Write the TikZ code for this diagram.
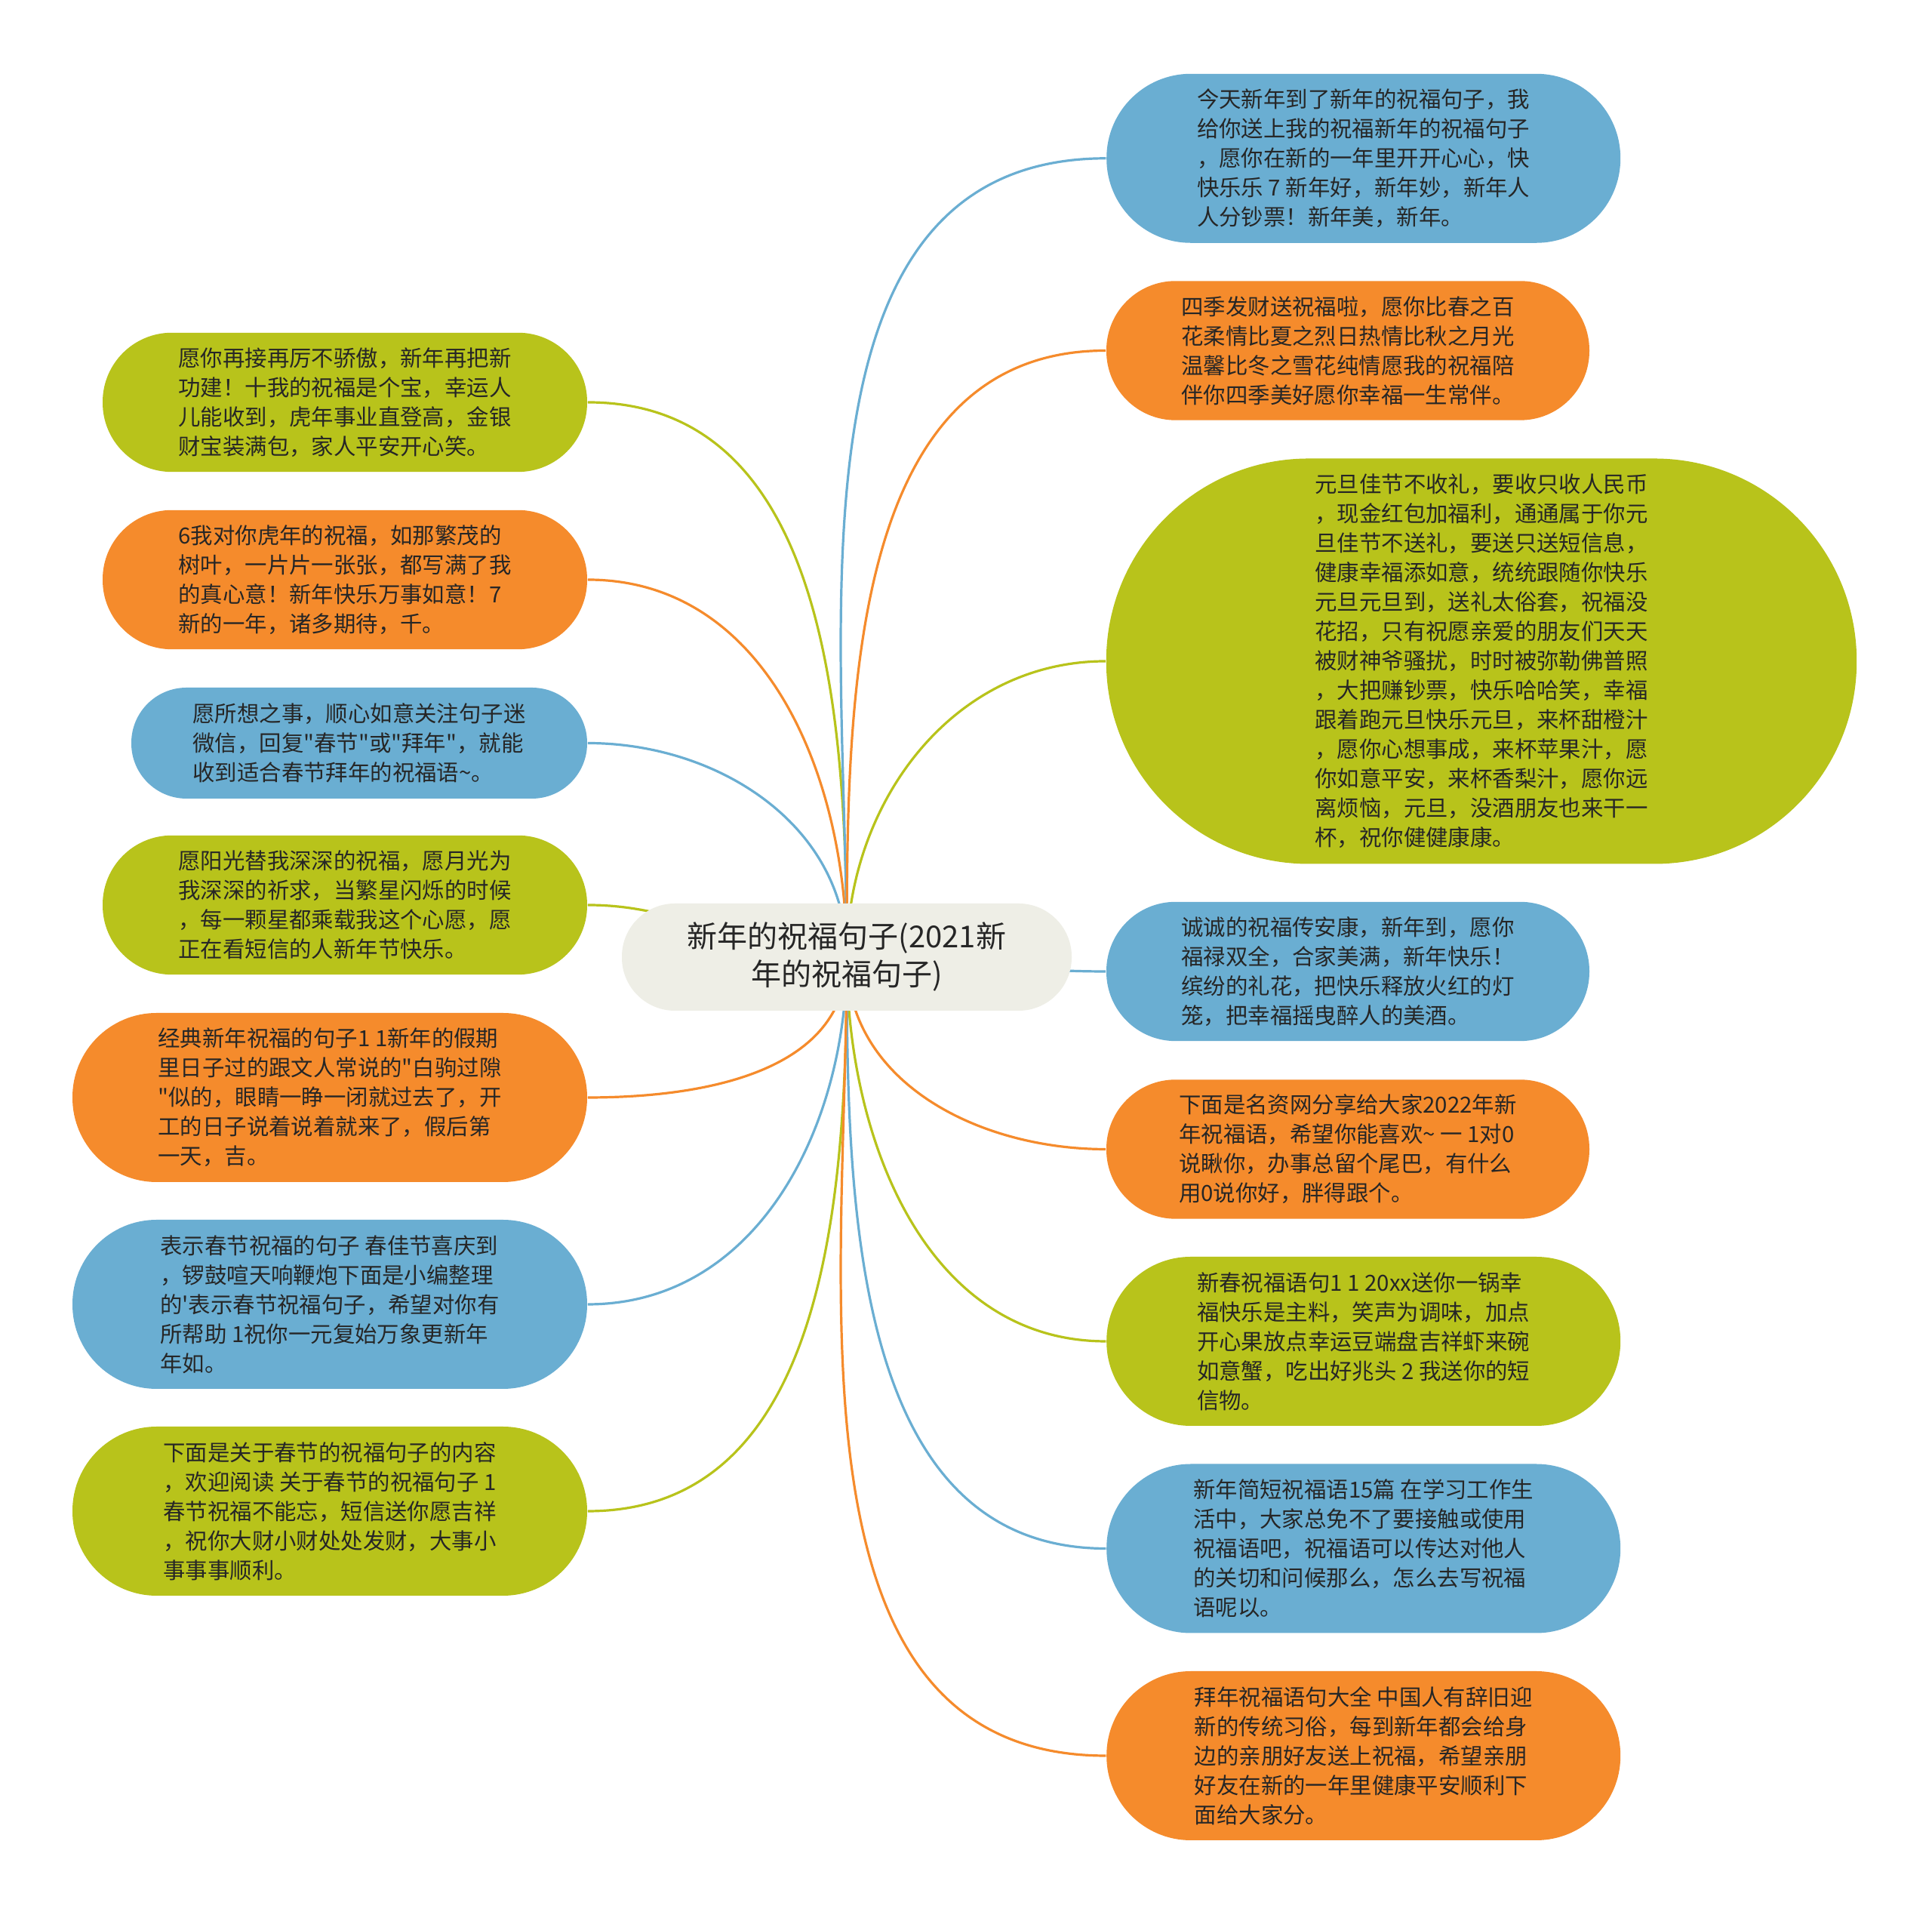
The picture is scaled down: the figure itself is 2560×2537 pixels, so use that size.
\documentclass[tikz,border=0pt]{standalone}
\usepackage{fontspec}
\newfontfamily\cjk{Noto Sans CJK SC}
\usetikzlibrary{backgrounds}
\pgfdeclarelayer{bgzero}
\pgfsetlayers{bgzero,background,main}
\definecolor{cG}{HTML}{B8C31B}
\definecolor{cO}{HTML}{F58B2C}
\definecolor{cB}{HTML}{6AAED2}
\definecolor{cC}{HTML}{EEEEE6}
\definecolor{txt}{HTML}{262626}
\begin{document}
\begin{tikzpicture}[x=0.25pt,y=0.25pt,
  bub/.style={draw=none, align=left, inner sep=0pt, text=txt,
    font=\cjk\fontsize{7.35pt}{9.75pt}\selectfont},
  hfour/.style={minimum height=46.1pt, rounded corners=22.9pt},
  hfive/.style={minimum height=56pt, rounded corners=27.9pt},
  hthree/.style={minimum height=36.75pt, rounded corners=18.3pt},
  conn/.style={line width=0.8pt}]
\begin{pgfonlayer}{bgzero}
\fill[white] (0,0) rectangle (2560,2537);
\end{pgfonlayer}
\useasboundingbox (0,0) rectangle (2560,2537);

% centre
\node[fill=cC, text=txt, align=center, inner sep=0pt, minimum width=149pt,
  minimum height=35.5pt, rounded corners=17.6pt,
  font=\cjk\fontsize{10pt}{12.5pt}\selectfont] (c) at (1122,1269)
  {新年的祝福句子(2021新\\年的祝福句子)};

% left
\node[bub, hfour, fill=cG, minimum width=160.5pt] (L1) at (457,2004)
{愿你再接再厉不骄傲，新年再把新\\功建！十我的祝福是个宝，幸运人\\儿能收到，虎年事业直登高，金银\\财宝装满包，家人平安开心笑。};
\node[bub, hfour, fill=cO, minimum width=160.5pt] (L2) at (457,1769)
{6我对你虎年的祝福，如那繁茂的\\树叶，一片片一张张，都写满了我\\的真心意！新年快乐万事如意！7\\新的一年，诸多期待，千。};
\node[bub, hthree, fill=cB, minimum width=151pt] (L3) at (476,1552.5)
{愿所想之事，顺心如意关注句子迷\\微信，回复"春节"或"拜年"，就能\\收到适合春节拜年的祝福语\textasciitilde。};
\node[bub, hfour, fill=cG, minimum width=160.5pt] (L4) at (457,1338)
{愿阳光替我深深的祝福，愿月光为\\我深深的祈求，当繁星闪烁的时候\\，每一颗星都乘载我这个心愿，愿\\正在看短信的人新年节快乐。};
\node[bub, hfive, fill=cO, minimum width=170.5pt] (L5) at (437,1083)
{经典新年祝福的句子1 1新年的假期\\里日子过的跟文人常说的"白驹过隙\\"似的，眼睛一睁一闭就过去了，开\\工的日子说着说着就来了，假后第\\一天，吉。};
\node[bub, hfive, fill=cB, minimum width=170.5pt] (L6) at (437,809)
{表示春节祝福的句子 春佳节喜庆到\\，锣鼓喧天响鞭炮下面是小编整理\\的'表示春节祝福句子，希望对你有\\所帮助 1祝你一元复始万象更新年\\年如。};
\node[bub, hfive, fill=cG, minimum width=170.5pt] (L7) at (437,535)
{下面是关于春节的祝福句子的内容\\，欢迎阅读 关于春节的祝福句子 1\\春节祝福不能忘，短信送你愿吉祥\\，祝你大财小财处处发财，大事小\\事事事顺利。};

% right
\node[bub, hfive, fill=cB, minimum width=170.25pt] (R1) at (1806.7,2327.2)
{今天新年到了新年的祝福句子，我\\给你送上我的祝福新年的祝福句子\\，愿你在新的一年里开开心心，快\\快乐乐 7 新年好，新年妙，新年人\\人分钞票！新年美，新年。};
\node[bub, hfour, fill=cO, minimum width=160pt] (R2) at (1786,2072.5)
{四季发财送祝福啦，愿你比春之百\\花柔情比夏之烈日热情比秋之月光\\温馨比冬之雪花纯情愿我的祝福陪\\伴你四季美好愿你幸福一生常伴。};
\node[bub, fill=cG, minimum width=248.6pt, minimum height=134.25pt,
  rounded corners=67pt] (R3) at (1963,1661)
{元旦佳节不收礼，要收只收人民币\\，现金红包加福利，通通属于你元\\旦佳节不送礼，要送只送短信息，\\健康幸福添如意，统统跟随你快乐\\元旦元旦到，送礼太俗套，祝福没\\花招，只有祝愿亲爱的朋友们天天\\被财神爷骚扰，时时被弥勒佛普照\\，大把赚钞票，快乐哈哈笑，幸福\\跟着跑元旦快乐元旦，来杯甜橙汁\\，愿你心想事成，来杯苹果汁，愿\\你如意平安，来杯香梨汁，愿你远\\离烦恼，元旦，没酒朋友也来干一\\杯，祝你健健康康。};
\node[bub, hfour, fill=cB, minimum width=160pt] (R4) at (1786,1250)
{诚诚的祝福传安康，新年到，愿你\\福禄双全，合家美满，新年快乐！\\缤纷的礼花，把快乐释放火红的灯\\笼，把幸福摇曳醉人的美酒。};
\node[bub, hfour, fill=cO, minimum width=160pt] (R5) at (1786,1014.5)
{下面是名资网分享给大家2022年新\\年祝福语，希望你能喜欢\textasciitilde{} 一 1对0\\说瞅你，办事总留个尾巴，有什么\\用0说你好，胖得跟个。};
\node[bub, hfive, fill=cG, minimum width=170.25pt] (R6) at (1806.7,760)
{新春祝福语句1 1 20xx送你一锅幸\\福快乐是主料，笑声为调味，加点\\开心果放点幸运豆端盘吉祥虾来碗\\如意蟹，吃出好兆头 2 我送你的短\\信物。};
\node[bub, hfive, fill=cB, minimum width=170.25pt] (R7) at (1806.7,485.5)
{新年简短祝福语15篇 在学习工作生\\活中，大家总免不了要接触或使用\\祝福语吧，祝福语可以传达对他人\\的关切和问候那么，怎么去写祝福\\语呢以。};
\node[bub, hfive, fill=cO, minimum width=170.25pt] (R8) at (1806.7,211)
{拜年祝福语句大全 中国人有辞旧迎\\新的传统习俗，每到新年都会给身\\边的亲朋好友送上祝福，希望亲朋\\好友在新的一年里健康平安顺利下\\面给大家分。};

\begin{pgfonlayer}{background}
\draw[conn, cG] (c.center) to[out=90,in=0] (L1.east);
\draw[conn, cO] (c.center) to[out=90,in=0] (L2.east);
\draw[conn, cB] (c.center) to[out=90,in=0] (L3.east);
\draw[conn, cG] (c.center) to[out=180,in=0] (L4.east);
\draw[conn, cO] (c.center) to[out=-90,in=0] (L5.east);
\draw[conn, cB] (c.center) to[out=-90,in=0] (L6.east);
\draw[conn, cG] (c.center) to[out=-90,in=0] (L7.east);
\draw[conn, cB] (c.center) to[out=90,in=180] (R1.west);
\draw[conn, cO] (c.center) to[out=90,in=180] (R2.west);
\draw[conn, cG] (c.center) to[out=90,in=180] (R3.west);
\draw[conn, cB] (c.center) to[out=0,in=180] (R4.west);
\draw[conn, cO] (c.center) to[out=-90,in=180] (R5.west);
\draw[conn, cG] (c.center) to[out=-90,in=180] (R6.west);
\draw[conn, cB] (c.center) to[out=-90,in=180] (R7.west);
\draw[conn, cO] (c.center) to[out=-90,in=180] (R8.west);
\end{pgfonlayer}
\end{tikzpicture}
\end{document}
